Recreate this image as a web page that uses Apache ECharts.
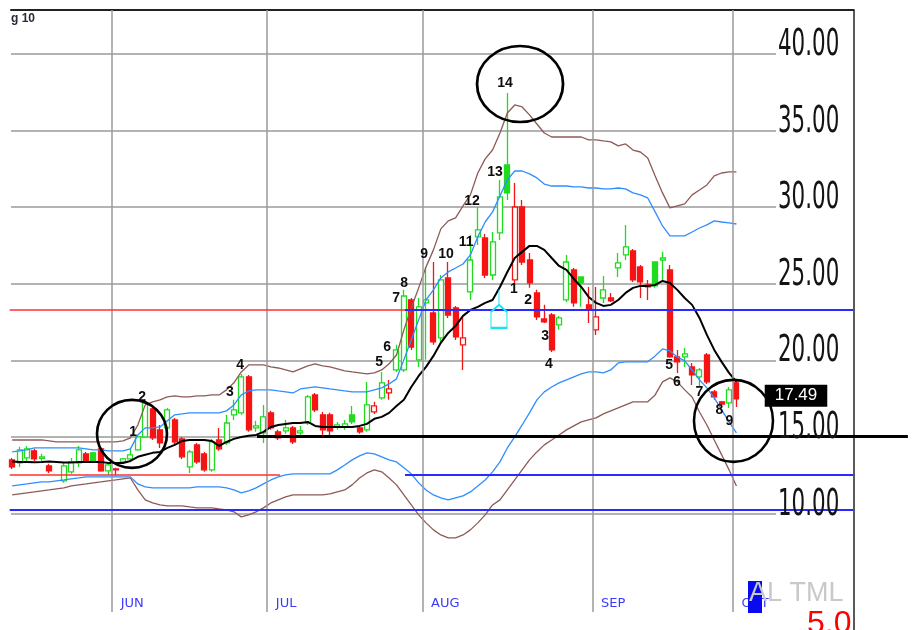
<!DOCTYPE html>
<html>
<head>
<meta charset="utf-8">
<title>Bollinger chart</title>
<script src="https://cdn.jsdelivr.net/npm/echarts@6.0.0/dist/echarts.min.js"></script>
<style>
  html, body { margin: 0; padding: 0; background: #fff; }
  #chart { width: 912px; height: 630px; }
</style>
</head>
<body>
<div id="chart"></div>
<script>
// trading days per month shown on the chart
const monthNames = ['MAY', 'JUN', 'JUL', 'AUG', 'SEP', 'OCT'];
const monthDays = [14, 21, 21, 23, 19, 1];
const emptySlots = 23;

const opens = [
  13.50, 13.30, 13.63, 14.09, 13.60, 13.11, null, 12.13, 12.72, 13.30,
  13.89, 13.96, 14.22, 12.78, 12.91, 13.37, 13.56, 14.15, 15.00, 16.83,
  15.46, 15.59, 16.11, 14.87, 13.04, 14.48, 13.89, 12.85, 14.80, 14.61,
  16.44, 16.57, 18.92, 15.59, 15.26, 16.57, 15.33, 15.39, 15.59, 15.26,
  15.91, 17.74, 16.44, 16.44, 15.65, 15.65, 16.44, 15.59, 15.46, 16.63,
  17.55, 17.87, 19.37, 19.37, 23.94, 20.03, 23.75, 23.09, 21.46, 25.38,
  23.42, 21.01, 24.47, 28.06, 27.99, 25.57, 28.32, 32.75, 25.25, 30.01,
  26.55, 24.40, 22.70, 22.96, 22.31, 23.94, 25.90, 25.44, 23.62, 21.99,
  24.07, 24.07, 26.03, 26.88, 27.14, 26.10, 24.92, 26.42, 26.55, 25.90,
  20.22, 20.22, 19.57, 18.92, 20.35, 17.94, 17.29, 17.22, 18.53
];
const closes = [
  13.04, 14.15, 14.22, 13.56, 13.70, 12.78, null, 13.11, 13.37, 14.15,
  13.37, 13.43, 12.78, 13.17, 12.85, 13.56, 13.83, 15.00, 17.22, 14.94,
  14.61, 16.76, 14.67, 13.70, 14.02, 13.37, 12.85, 14.67, 14.22, 15.91,
  16.76, 18.92, 15.46, 15.72, 16.31, 15.59, 14.94, 15.59, 14.67, 15.39,
  17.61, 16.76, 15.46, 15.39, 15.78, 15.85, 15.98, 15.33, 17.09, 17.02,
  18.53, 18.13, 20.68, 24.20, 20.87, 23.49, 23.94, 21.20, 25.25, 22.96,
  21.53, 21.46, 26.55, 28.51, 25.57, 27.73, 30.67, 30.93, 30.01, 26.42,
  25.05, 22.83, 22.51, 20.68, 22.77, 26.42, 23.75, 25.05, 23.36, 22.83,
  24.60, 23.88, 26.36, 27.40, 25.25, 25.12, 24.79, 24.86, 26.68, 20.22,
  19.90, 20.42, 19.05, 19.37, 18.59, 17.61, 17.15, 18.07, 17.49
];
const lows = [
  12.91, 13.04, 13.43, 13.43, 13.45, 12.65, null, 12.00, 12.59, 13.04,
  13.30, 13.37, 12.72, 12.52, 12.46, 13.30, 13.43, 14.09, 14.94, 14.80,
  14.28, 15.46, 14.54, 13.56, 12.65, 13.24, 12.72, 12.72, 14.09, 14.48,
  16.11, 16.44, 15.33, 15.33, 14.61, 15.46, 14.80, 15.20, 14.54, 15.07,
  15.78, 16.63, 14.94, 14.94, 15.46, 15.46, 15.85, 15.20, 15.33, 16.50,
  17.42, 17.42, 19.24, 19.24, 20.68, 19.57, 20.03, 21.01, 21.20, 22.77,
  21.33, 19.37, 23.94, 27.53, 25.38, 25.25, 27.86, 30.47, 25.05, 26.23,
  24.73, 22.64, 22.44, 20.55, 21.99, 23.81, 23.49, 23.49, 22.44, 21.66,
  23.75, 23.81, 25.44, 26.55, 25.12, 24.07, 23.94, 24.73, 25.25, 20.16,
  19.18, 19.57, 18.39, 18.26, 18.46, 17.42, 17.09, 16.89, 16.96
];
const highs = [
  13.63, 14.35, 14.41, 14.22, 13.90, 13.24, null, 13.30, 13.63, 14.41,
  14.02, 14.02, 14.28, 13.30, 12.98, 13.63, 14.28, 15.13, 17.48, 17.09,
  15.78, 16.89, 16.24, 15.00, 14.15, 14.61, 14.02, 14.87, 15.59, 16.44,
  17.42, 19.11, 19.05, 16.05, 17.09, 16.70, 15.46, 16.11, 15.72, 15.72,
  17.74, 17.87, 16.63, 16.57, 15.98, 16.11, 17.02, 15.72, 18.59, 17.29,
  19.24, 18.72, 21.01, 24.60, 24.07, 24.07, 26.10, 26.42, 25.57, 26.42,
  23.55, 22.84, 28.19, 30.01, 28.25, 28.38, 31.78, 37.45, 31.58, 30.47,
  27.01, 24.60, 23.62, 23.09, 22.90, 26.88, 26.03, 25.44, 24.79, 24.79,
  25.51, 24.40, 27.01, 28.84, 27.27, 26.23, 25.25, 26.42, 27.08, 26.23,
  20.68, 20.81, 19.83, 19.50, 20.48, 18.07, 17.35, 18.26, 18.59
];

// bands
const upperOuter = [
  14.80, 14.80, 14.80, 14.80, 14.80, 14.74, 14.67, 14.67, 14.67, 14.67,
  14.67, 14.67, 14.67, 14.67, 14.67, 14.74, 14.94, 15.78, 17.09, 17.29,
  17.42, 17.61, 17.68, 17.61, 17.61, 17.68, 17.68, 17.74, 17.74, 18.07,
  18.53, 19.24, 19.70, 19.70, 19.70, 19.57, 19.50, 19.37, 19.24, 19.44,
  19.64, 19.77, 19.64, 19.57, 19.44, 19.31, 19.24, 19.18, 19.11, 19.18,
  19.37, 19.77, 20.35, 21.99, 23.42, 24.73, 26.10, 27.21, 28.58, 29.10,
  29.30, 30.08, 30.80, 32.23, 33.15, 33.73, 34.84, 36.15, 36.67, 36.54,
  36.02, 35.43, 34.84, 34.58, 34.58, 34.58, 34.58, 34.58, 34.39, 34.39,
  34.32, 34.26, 34.00, 34.13, 33.73, 33.60, 33.21, 32.04, 30.93, 29.95,
  30.08, 30.21, 30.80, 31.12, 31.45, 32.04, 32.23, 32.30, 32.30
];
const upperInner = [
  14.02, 14.09, 14.15, 14.28, 14.28, 14.28, 14.28, 14.28, 14.28, 14.28,
  14.22, 14.15, 14.15, 14.09, 14.09, 14.09, 14.22, 15.13, 15.59, 15.59,
  15.65, 16.05, 16.44, 16.50, 16.57, 16.57, 16.57, 16.57, 16.57, 16.70,
  17.09, 17.74, 18.00, 18.07, 18.07, 18.07, 18.00, 17.94, 17.87, 18.13,
  18.20, 18.26, 18.20, 18.13, 18.07, 18.00, 17.94, 17.94, 17.94, 18.07,
  18.20, 18.46, 18.79, 20.03, 21.33, 22.64, 23.94, 24.60, 25.38, 25.77,
  26.03, 26.29, 26.88, 28.06, 29.03, 29.69, 30.73, 31.78, 32.36, 32.36,
  32.17, 31.91, 31.51, 31.38, 31.38, 31.38, 31.32, 31.32, 31.25, 31.25,
  31.19, 31.19, 31.25, 31.19, 30.93, 30.80, 30.60, 29.69, 28.77, 28.12,
  28.12, 28.12, 28.38, 28.64, 28.84, 29.10, 29.03, 28.97, 28.90
];
const middle = [
  13.40, 13.37, 13.37, 13.35, 13.37, 13.40, 13.37, 13.33, 13.33, 13.37,
  13.37, 13.37, 13.37, 13.30, 13.30, 13.30, 13.43, 13.70, 13.83, 13.96,
  14.02, 14.28, 14.48, 14.74, 14.80, 14.80, 14.80, 14.74, 14.41, 14.67,
  14.87, 15.00, 15.07, 15.13, 15.33, 15.65, 15.78, 15.85, 15.91, 15.91,
  15.98, 15.72, 15.65, 15.65, 15.65, 15.65, 15.65, 15.72, 15.85, 16.18,
  16.31, 16.57, 17.02, 17.42, 18.26, 18.98, 19.57, 20.29, 21.14, 21.79,
  22.25, 22.90, 23.29, 23.49, 23.75, 23.94, 24.79, 25.77, 26.68, 27.08,
  27.47, 27.47, 27.21, 26.68, 26.16, 25.90, 25.31, 24.79, 24.14, 23.75,
  23.55, 23.62, 23.94, 24.40, 24.73, 24.86, 24.86, 24.92, 25.18, 25.05,
  24.60, 24.07, 23.62, 22.77, 21.66, 20.68, 19.90, 19.18, 18.59
];
const lowerInner = [
  11.80, 11.87, 11.93, 12.00, 12.06, 12.06, 12.13, 12.19, 12.26, 12.32,
  12.39, 12.39, 12.39, 12.39, 12.39, 12.39, 12.39, 11.93, 11.74, 11.67,
  11.67, 11.67, 11.67, 11.67, 11.67, 11.74, 11.74, 11.74, 11.74, 11.67,
  11.54, 11.35, 11.48, 11.67, 11.93, 12.19, 12.39, 12.52, 12.59, 12.59,
  12.59, 12.59, 12.59, 12.59, 12.85, 13.17, 13.50, 13.76, 13.96, 13.89,
  13.70, 13.50, 13.37, 12.98, 12.59, 12.00, 11.54, 11.21, 11.02, 10.89,
  11.02, 11.15, 11.41, 11.80, 12.19, 12.72, 13.37, 14.28, 15.00, 15.78,
  16.57, 17.42, 17.94, 18.26, 18.53, 18.72, 18.92, 19.11, 19.24, 19.24,
  19.18, 19.37, 19.83, 19.90, 19.90, 19.90, 19.90, 20.29, 20.74, 20.61,
  20.22, 19.96, 19.37, 18.72, 18.20, 17.55, 16.76, 15.98, 15.26
];
const lowerOuter = [
  11.21, 11.28, 11.35, 11.41, 11.48, 11.54, 11.61, 11.67, 11.80, 11.87,
  11.93, 12.00, 12.06, 12.13, 12.19, 12.26, 12.32, 11.54, 10.89, 10.69,
  10.56, 10.50, 10.50, 10.50, 10.43, 10.37, 10.37, 10.37, 10.30, 10.24,
  10.11, 9.78, 9.91, 10.11, 10.37, 10.69, 10.89, 11.08, 11.21, 11.21,
  11.21, 11.21, 11.21, 11.28, 11.41, 11.54, 11.87, 12.32, 12.65, 12.85,
  12.72, 12.32, 11.87, 11.21, 10.56, 9.91, 9.39, 8.93, 8.60, 8.41,
  8.41, 8.60, 8.93, 9.39, 9.91, 10.56, 10.89, 11.54, 12.19, 12.85,
  13.50, 14.02, 14.48, 14.80, 15.13, 15.46, 15.72, 15.98, 16.11, 16.24,
  16.50, 16.70, 16.89, 17.09, 17.29, 17.29, 17.29, 17.74, 18.59, 18.85,
  18.59, 18.07, 17.61, 16.63, 15.78, 14.80, 13.83, 12.85, 11.80
];

// count labels (position in bar units, price)
const countX = [16.35, 17.57, 29.47, 30.83, 49.64, 50.72, 51.94, 53.02, 55.73, 58.70, 61.41, 62.22,
  65.33, 66.69, 67.90, 69.80, 72.10, 72.64, 88.88, 89.96, 92.99, 95.69, 97.05];
const countY = [15.33, 17.61, 17.94, 19.70, 19.90, 20.87, 24.07, 25.05, 26.94, 26.94, 27.73, 30.41,
  32.30, 38.11, 24.66, 23.94, 21.59, 19.77, 19.70, 18.59, 17.94, 16.76, 16.05];
const countText = ['1', '2', '3', '4', '5', '6', '7', '8', '9', '10', '11', '12',
  '13', '14', '1', '2', '3', '4', '5', '6', '7', '8', '9'];

// hand drawn circles and the arrow marker
const circleX = [16.21, 68.72, 97.60];
const circleY = [15.20, 38.04, 16.05];
const arrowX = [65.87];
const arrowY = [23.36];

// horizontal levels
const upperLevel = 23.29;
const lowerLevel = 12.52;
const floorLevel = 10.24;
const supportLevel = 15.05;

const tickValues = [10, 15, 20, 25, 30, 35, 40];

const GREEN = '#1fdc1f';
const RED = '#f51414';

const categories = [];
const monthStart = {};
const monthLines = [];
monthNames.forEach(function (m, k) {
  if (k > 0) {
    monthStart[categories.length] = m;
    monthLines.push(categories.length - 0.5);
  }
  for (let d = 1; d <= monthDays[k]; d++) categories.push(m + ' ' + d);
});
for (let j = 0; j < emptySlots; j++) categories.push('');
const lastBar = categories.length - 1;

let prevClose = null;
const candleData = opens.map(function (o, i) {
  if (o === null) return { value: ['-', '-', '-', '-'] };
  const c = closes[i];
  const up = prevClose === null ? c >= o : c >= prevClose;
  prevClose = c;
  const col = up ? GREEN : RED;
  const fill = c > o ? '#ffffff' : col;
  return {
    value: [o, c, lows[i], highs[i]],
    itemStyle: { color: fill, color0: fill, borderColor: col, borderColor0: col }
  };
});

const circleSizes = [[70, 68], [86, 76], [79, 82]];

function bandLine(name, data, color, width) {
  return {
    name: name, type: 'line', xAxisIndex: 0, yAxisIndex: 0, data: data,
    symbol: 'none', smooth: false, z: 3,
    lineStyle: { color: color, width: width }
  };
}

function level(x0, x1, y, color, width) {
  return [
    { coord: [x0, y], lineStyle: { color: color, width: width, type: 'solid' } },
    { coord: [x1, y] }
  ];
}

const option = {
  animation: false,
  backgroundColor: '#ffffff',
  grid: [
    { left: 8.5, right: 1.9, top: 10, bottom: 18 },
    { left: 11, right: 136, top: 54, bottom: 116.5 },
    { left: 11, right: 58.5, top: 10, bottom: 0 }
  ],
  xAxis: [
    {
      type: 'category', gridIndex: 0, data: categories, boundaryGap: true,
      axisLine: { show: false }, axisTick: { show: false },
      axisLabel: {
        inside: true, margin: 2, align: 'left', padding: [0, 0, 0, 5],
        color: '#3b3bff', fontSize: 13, fontFamily: 'DejaVu Sans',
        interval: function (i) { return monthStart[i] !== undefined; },
        formatter: function (v) { return v.split(' ')[0]; }
      },
      splitLine: { show: false }
    },
    { type: 'value', gridIndex: 0, min: -0.5, max: lastBar + 0.5, show: false },
    { type: 'value', gridIndex: 1, min: 0, max: 1, show: false },
    {
      type: 'value', gridIndex: 2, min: 0, max: 1, position: 'top',
      axisLine: { show: true, onZero: false, lineStyle: { color: '#222', width: 2 } },
      axisTick: { show: false }, axisLabel: { show: false }, splitLine: { show: false }
    }
  ],
  yAxis: [
    { type: 'value', gridIndex: 0, min: 3.57, max: 42.87, show: false },
    {
      type: 'value', gridIndex: 1, min: 10, max: 40, interval: 5,
      axisLine: { show: false }, axisTick: { show: false }, axisLabel: { show: false },
      splitLine: { show: true, lineStyle: { color: '#9a9a9a', width: 1.5 } }
    },
    {
      type: 'value', gridIndex: 2, min: 0, max: 1, position: 'right',
      axisLine: { show: true, onZero: false, lineStyle: { color: '#222', width: 1.5 } },
      axisTick: { show: false }, axisLabel: { show: false }, splitLine: { show: false }
    }
  ],
  series: [
    {
      name: 'price', type: 'candlestick', xAxisIndex: 0, yAxisIndex: 0,
      data: candleData, barWidth: 5.5, z: 2,
      itemStyle: { borderWidth: 1.3 }
    },
    bandLine('upperOuter', upperOuter, '#8e5a55', 1.3),
    bandLine('lowerOuter', lowerOuter, '#8e5a55', 1.3),
    bandLine('upperInner', upperInner, '#2f8dff', 1.3),
    bandLine('lowerInner', lowerInner, '#2f8dff', 1.3),
    bandLine('middle', middle, '#000000', 2),
    {
      // month separators
      name: 'months', type: 'scatter', xAxisIndex: 1, yAxisIndex: 0, z: 1,
      data: [], silent: true,
      markLine: {
        silent: true, symbol: ['none', 'none'], label: { show: false },
        lineStyle: { color: '#9a9a9a', width: 1.5, type: 'solid' },
        data: monthLines.map(function (x) { return { xAxis: x }; })
      }
    },
    {
      name: 'counts', type: 'scatter', xAxisIndex: 1, yAxisIndex: 0, z: 5,
      data: countX.map(function (x, i) { return [x, countY[i], countText[i]]; }),
      symbolSize: 1, itemStyle: { color: 'rgba(0,0,0,0)', opacity: 1 },
      label: {
        show: true, position: 'inside', color: '#0d0d0d',
        fontFamily: 'Liberation Sans', fontWeight: 'bold', fontSize: 14,
        formatter: function (p) { return p.value[2]; }
      },
      markLine: {
        silent: true, symbol: ['none', 'none'], label: { show: false },
        data: [
          level(-0.34, 53.15, upperLevel, '#ff3030', 1.5),
          level(53.15, 113.8, upperLevel, '#2a2aff', 2),
          level(-0.34, 36.24, lowerLevel, '#ff3030', 1.5),
          level(53.15, 113.8, lowerLevel, '#2a2aff', 2),
          level(-0.34, 113.8, floorLevel, '#2a2aff', 2),
          level(33.13, 121.2, supportLevel, '#000000', 3)
        ]
      }
    },
    {
      name: 'circles', type: 'scatter', xAxisIndex: 1, yAxisIndex: 0, z: 6,
      data: circleX.map(function (x, i) { return [x, circleY[i]]; }),
      symbol: 'circle',
      symbolSize: function (v, p) { return circleSizes[p.dataIndex]; },
      itemStyle: { color: 'rgba(0,0,0,0)', borderColor: '#000', borderWidth: 2.6, opacity: 1 }
    },
    {
      name: 'arrow', type: 'scatter', xAxisIndex: 1, yAxisIndex: 0, z: 5,
      data: arrowX.map(function (x, i) { return [x, arrowY[i]]; }),
      symbol: 'path://M8,0L8,15M8,15L0,22L0,38L16,38L16,22Z',
      symbolSize: [16, 38], symbolKeepAspect: false,
      itemStyle: { color: 'rgba(0,0,0,0)', borderColor: '#19e3f0', borderWidth: 1.5, opacity: 1 }
    },
    {
      name: 'last', type: 'scatter', xAxisIndex: 1, yAxisIndex: 0, z: 7,
      data: [[106.06, closes[closes.length - 1]]],
      symbolSize: 1, itemStyle: { color: 'rgba(0,0,0,0)', opacity: 1 },
      label: {
        show: true, position: 'inside', offset: [0, -3],
        formatter: function (p) { return p.value[1].toFixed(2); },
        backgroundColor: '#000', color: '#fff', padding: [3, 10, 2, 10],
        fontFamily: 'Liberation Sans', fontSize: 17
      }
    }
  ]
};

const chart = echarts.init(document.getElementById('chart'));
chart.setOption(option);

// price scale labels sit inside the frame, tall and narrow
const scaleLabels = tickValues.map(function (v) {
  const py = chart.convertToPixel({ yAxisIndex: 1 }, v);
  return {
    type: 'text', x: 778, y: py - 8.5, scaleX: 1.07, scaleY: 1.85, z: 20,
    style: {
      text: v.toFixed(2), fill: '#141414', verticalAlign: 'middle', align: 'left',
      font: '20px "DejaVu Sans"'
    }
  };
});

chart.setOption({
  graphic: scaleLabels.concat([
    {
      type: 'text', x: 11, y: 13, z: 20,
      style: { text: 'g 10', fill: '#2a2a3a', font: 'bold 12px "Liberation Sans"', verticalAlign: 'top' }
    },
    {
      type: 'rect', z: 20, shape: { x: 748, y: 581, width: 14, height: 32 },
      style: { fill: '#0a0af0' }
    },
    {
      type: 'text', x: 749, y: 580, z: 21,
      style: { text: 'AL TML', fill: '#c9c9c9', font: '27px "Liberation Sans"', verticalAlign: 'top' }
    },
    {
      type: 'text', x: 807, y: 608, z: 21,
      style: { text: '5.0', fill: '#ff0000', font: '32px "Liberation Sans"', verticalAlign: 'top' }
    }
  ])
});
</script>
</body>
</html>
